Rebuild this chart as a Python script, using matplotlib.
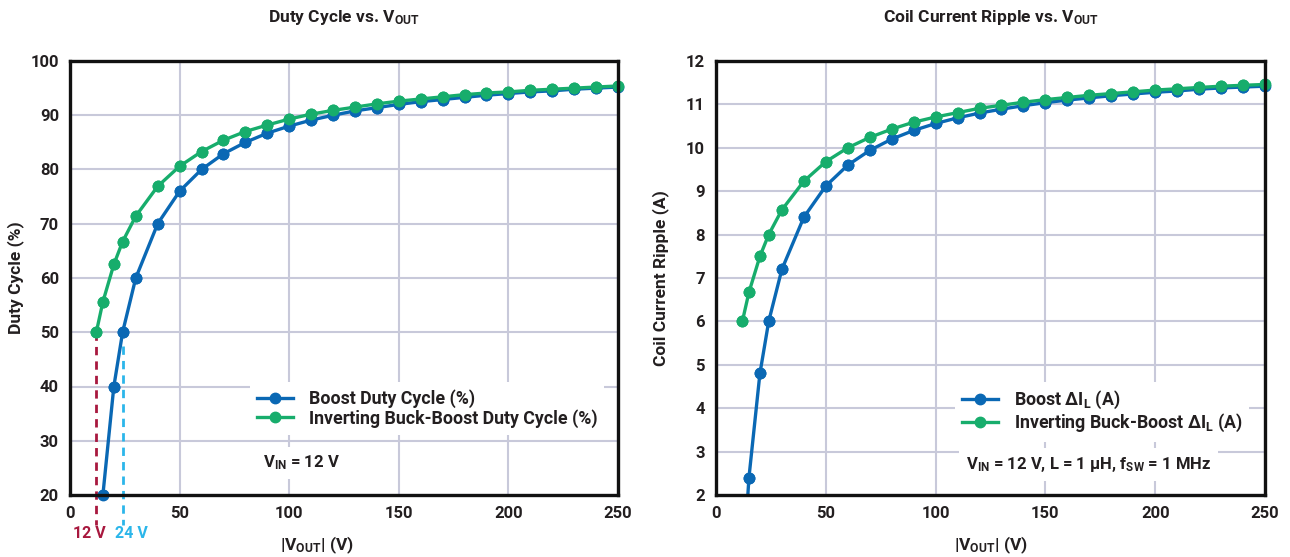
import numpy as np
import matplotlib
matplotlib.use("Agg")
import matplotlib.pyplot as plt

plt.rcParams['font.family'] = ['Roboto', 'DejaVu Sans']
plt.rcParams['font.weight'] = 'bold'
plt.rcParams['mathtext.fontset'] = 'custom'
plt.rcParams['mathtext.rm'] = 'Roboto:bold'
plt.rcParams['mathtext.it'] = 'Roboto:bold'
plt.rcParams['mathtext.bf'] = 'Roboto:bold'

# ---------------- data ----------------
vout = [12, 15, 20, 24, 30, 40, 50, 60, 70, 80, 90, 100, 110, 120, 130, 140,
        150, 160, 170, 180, 190, 200, 210, 220, 230, 240, 250]
boost_duty = [0, 20, 40, 50, 60, 70, 76, 80, 82.9, 85, 86.7, 88, 89.1, 90, 90.8,
              91.4, 92, 92.5, 92.9, 93.3, 93.7, 94, 94.3, 94.5, 94.8, 95, 95.2]
inv_duty = [50, 55.6, 62.5, 66.7, 71.4, 76.9, 80.6, 83.3, 85.4, 87, 88.2, 89.3,
            90.2, 90.9, 91.5, 92.1, 92.6, 93, 93.4, 93.8, 94.1, 94.3, 94.6, 94.8,
            95, 95.2, 95.4]
boost_ripple = [0, 2.4, 4.8, 6, 7.2, 8.4, 9.12, 9.6, 9.94, 10.2, 10.4, 10.56,
                10.69, 10.8, 10.89, 10.97, 11.04, 11.1, 11.15, 11.2, 11.24, 11.28,
                11.31, 11.35, 11.38, 11.4, 11.42]
inv_ripple = [6, 6.67, 7.5, 8, 8.57, 9.23, 9.68, 10, 10.24, 10.43, 10.59, 10.71,
              10.81, 10.91, 10.98, 11.05, 11.11, 11.16, 11.21, 11.25, 11.29, 11.33,
              11.36, 11.39, 11.42, 11.44, 11.46]
duty_yticks = [20, 30, 40, 50, 60, 70, 80, 90, 100]
ripple_yticks = [2, 3, 4, 5, 6, 7, 8, 9, 10, 11, 12]
xticks = [0, 50, 100, 150, 200, 250]
marker_vin = 12
marker_2vin = 24
marker_level = 50

BLUE = '#0a68b4'
GREEN = '#17ad6c'
RED = '#a8183e'
LBLUE = '#2bb6ea'
GRID = '#c8c9da'
TXT = '#231f20'

W, H = 1290, 557
fig = plt.figure(figsize=(W / 100, H / 100), dpi=100)

def px_axes(x0, x1, y0, y1):
    return fig.add_axes([x0 / W, 1 - y1 / H, (x1 - x0) / W, (y1 - y0) / H])

axL = px_axes(70, 618, 61, 495)
axR = px_axes(716, 1265, 61, 495)

def style(ax, yticks, ylim):
    ax.set_xlim(0, 250)
    ax.set_ylim(*ylim)
    ax.set_xticks(xticks)
    ax.set_yticks(yticks)
    ax.grid(True, color=GRID, linewidth=1.5, zorder=0)
    ax.set_axisbelow(True)
    for s in ax.spines.values():
        s.set_linewidth(2.4)
        s.set_color('#111111')
        s.set_zorder(5)
    ax.tick_params(length=0, labelsize=12, colors=TXT, pad=8)
    for lab in ax.get_xticklabels() + ax.get_yticklabels():
        lab.set_fontweight('bold')

def series(ax, x, y, color, label, ymin):
    x = np.asarray(x, float)
    y = np.asarray(y, float)
    ax.plot(x, y, '-', color=color, lw=2.4, marker='o', ms=7.5, label=label,
            zorder=3, clip_on=True)
    m = y >= ymin
    ax.plot(x[m], y[m], 'o', color=color, ms=7.5, zorder=4, clip_on=False)

def legend(ax, x_anchor):
    leg = ax.legend(loc='upper left', bbox_to_anchor=(x_anchor, (495 - 382) / 434),
                    frameon=True, fancybox=False, framealpha=1, facecolor='white',
                    edgecolor='none', fontsize=12.8, handlelength=2.0,
                    handletextpad=0.9, labelspacing=0.05, borderpad=0.4,
                    borderaxespad=0)
    for t in leg.get_texts():
        t.set_color(TXT)
        t.set_fontweight('bold')
    leg.set_zorder(6)
    return leg

# ---------- left chart ----------
style(axL, duty_yticks, (20, 100))
series(axL, vout, boost_duty, BLUE, 'Boost Duty Cycle (%)', 20)
series(axL, vout, inv_duty, GREEN, 'Inverting Buck-Boost Duty Cycle (%)', 20)
axL.plot([marker_vin, marker_vin], [marker_level, 14.5], ls=(0, (3, 2.2)),
         color=RED, lw=2, clip_on=False, zorder=2)
axL.plot([marker_2vin, marker_2vin], [marker_level - 2.5, 14.5], ls=(0, (3, 2.2)),
         color=LBLUE, lw=2, clip_on=False, zorder=2)
axL.text(8.7, 12.9, '12 V', color=RED, fontsize=11.5, fontweight='bold',
         ha='center', va='center', clip_on=False)
axL.text(27.8, 12.9, '24 V', color=LBLUE, fontsize=11.5, fontweight='bold',
         ha='center', va='center', clip_on=False)
axL.set_title(r'Duty Cycle vs. V$_{OUT}$', fontsize=12.5, fontweight='bold',
              color=TXT, pad=28)
axL.set_ylabel('Duty Cycle (%)', fontsize=12.5, fontweight='bold', color=TXT)
axL.yaxis.set_label_coords((16 - 70) / 548, 0.5)
axL.yaxis.label.set_va('center')
axL.set_xlabel(r'|V$_{OUT}$| (V)', fontsize=12.5, fontweight='bold', color=TXT)
axL.xaxis.set_label_coords((317 - 70) / 548, (495 - 545) / 434)
axL.xaxis.label.set_va('center')
legend(axL, (250 - 70) / 548)
axL.text((263 - 70) / 548, (495 - 463) / 434, r'V$_{IN}$ = 12 V', transform=axL.transAxes,
         fontsize=12, fontweight='bold', color=TXT, ha='left', va='center', zorder=6,
         bbox=dict(facecolor='white', edgecolor='none', pad=5))

# ---------- right chart ----------
style(axR, ripple_yticks, (2, 12))
series(axR, vout, boost_ripple, BLUE, r'Boost ΔI$_L$ (A)', 2)
series(axR, vout, inv_ripple, GREEN, r'Inverting Buck-Boost ΔI$_L$ (A)', 2)
axR.set_title(r'Coil Current Ripple vs. V$_{OUT}$', fontsize=12.5, fontweight='bold',
              color=TXT, pad=28)
axR.set_ylabel('Coil Current Ripple (A)', fontsize=12.5, fontweight='bold', color=TXT)
axR.yaxis.set_label_coords((661 - 716) / 549, 0.5)
axR.yaxis.label.set_va('center')
axR.set_xlabel(r'|V$_{OUT}$| (V)', fontsize=12.5, fontweight='bold', color=TXT)
axR.xaxis.set_label_coords(0.5, (495 - 545) / 434)
axR.xaxis.label.set_va('center')
legend(axR, (955 - 716) / 549)
axR.text((966 - 716) / 549, (495 - 464) / 434,
         r'V$_{IN}$ = 12 V, L = 1 μH, f$_{SW}$ = 1 MHz', transform=axR.transAxes,
         fontsize=12, fontweight='bold', color=TXT, ha='left', va='center', zorder=6,
         bbox=dict(facecolor='white', edgecolor='none', pad=5))

fig.savefig('out.png', dpi=100, facecolor='white')
